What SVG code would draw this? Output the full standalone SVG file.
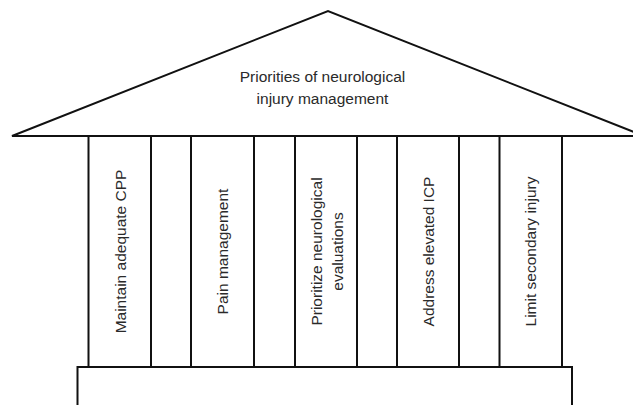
<svg xmlns="http://www.w3.org/2000/svg" width="633" height="405" viewBox="0 0 633 405">
<style>
.ln{fill:#fff;stroke:#111;stroke-width:2;stroke-linejoin:miter}
.t{font-family:"Liberation Sans",Arial,sans-serif;font-size:15.5px;fill:#2a2a2a;text-anchor:middle}
</style>
<rect width="633" height="405" fill="#fff"/>
<g id="roof">
<polygon class="ln" points="12,136 328,11 644,136"/>
<text class="t" x="322.5" y="82">Priorities of neurological</text>
<text class="t" x="322.5" y="104">injury management</text>
</g>
<g id="base">
<rect class="ln" x="77.5" y="367" width="494.5" height="60"/>
</g>
<g id="pillar1">
<rect class="ln" x="88.5" y="136" width="62.5" height="231"/>
<text class="t" transform="translate(125.5,251.5) rotate(-90)">Maintain adequate CPP</text>
</g>
<g id="pillar2">
<rect class="ln" x="191" y="136" width="63" height="231"/>
<text class="t" transform="translate(228,251.5) rotate(-90)">Pain management</text>
</g>
<g id="pillar3">
<rect class="ln" x="295" y="136" width="62" height="231"/>
<text class="t" transform="translate(321.5,251.5) rotate(-90)">Prioritize neurological</text>
<text class="t" transform="translate(342.5,251.5) rotate(-90)">evaluations</text>
</g>
<g id="pillar4">
<rect class="ln" x="397" y="136" width="62" height="231"/>
<text class="t" transform="translate(434,251.5) rotate(-90)">Address elevated ICP</text>
</g>
<g id="pillar5">
<rect class="ln" x="499.5" y="136" width="62.5" height="231"/>
<text class="t" transform="translate(536,251.5) rotate(-90)">Limit secondary injury</text>
</g>
</svg>
